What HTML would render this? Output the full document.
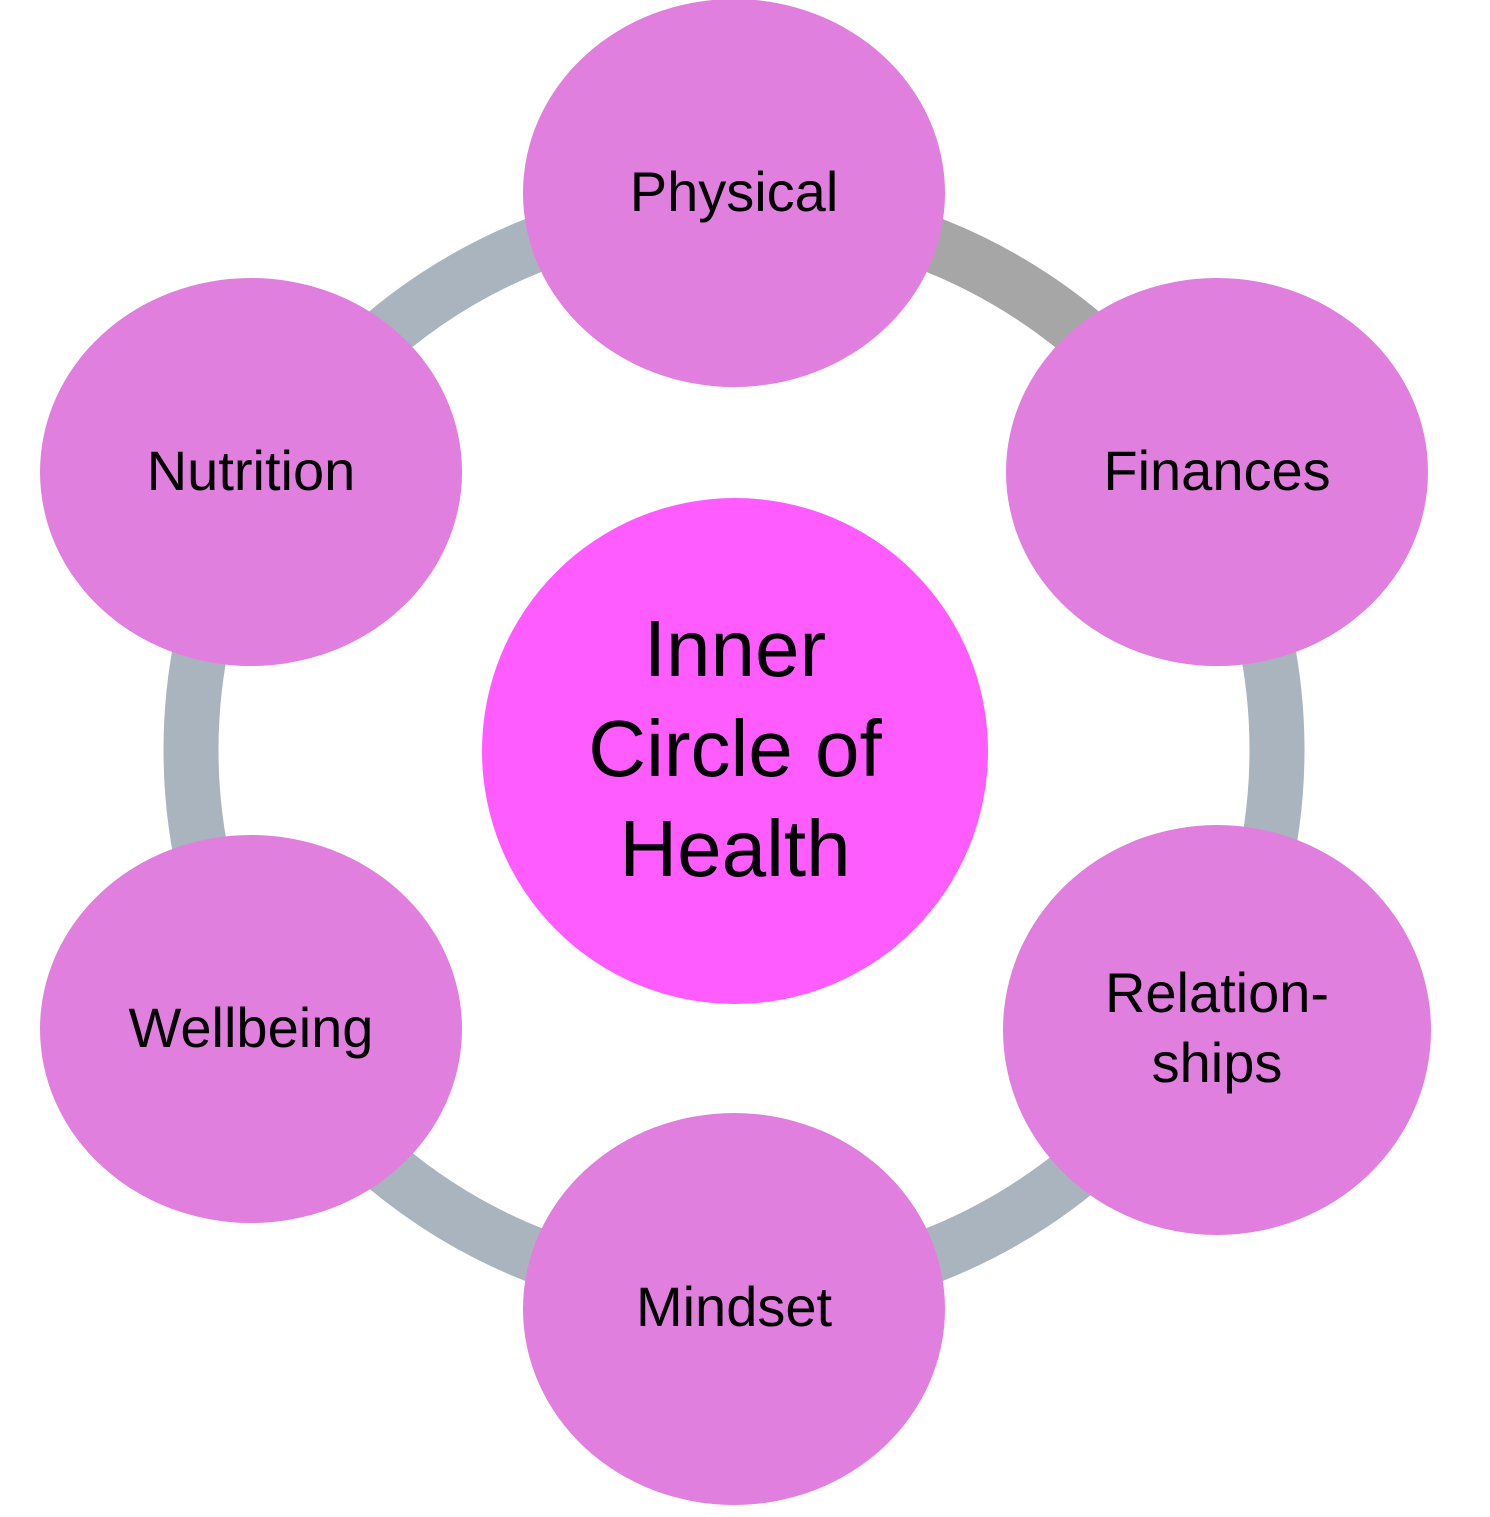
<!DOCTYPE html>
<html><head><style>html,body{margin:0;padding:0;background:#fff}</style></head>
<body>
<svg width="1490" height="1512" viewBox="0 0 1490 1512" xmlns="http://www.w3.org/2000/svg" font-family="Liberation Sans, sans-serif">
<rect width="1490" height="1512" fill="#fff"/>
<circle cx="734" cy="750" r="543" fill="none" stroke="#aab4bf" stroke-width="55"/>
<path d="M 734 207 A 543 543 0 0 1 1204 479" fill="none" stroke="#a6a6a6" stroke-width="55"/>
<g fill="#e07fdd">
<ellipse cx="734" cy="193" rx="211" ry="194"/>
<ellipse cx="1217" cy="472" rx="211" ry="194"/>
<ellipse cx="1217" cy="1030" rx="214" ry="205"/>
<ellipse cx="734" cy="1309" rx="211" ry="196"/>
<ellipse cx="251" cy="1029" rx="211" ry="194"/>
<ellipse cx="251" cy="472" rx="211" ry="194"/>
</g>
<circle cx="735" cy="751" r="253" fill="#ff5cff"/>
<g fill="#000" font-size="56" text-anchor="middle">
<text x="734" y="211">Physical</text>
<text x="1217" y="490">Finances</text>
<text x="1217" y="1012">Relation-</text>
<text x="1217" y="1082">ships</text>
<text x="734" y="1326">Mindset</text>
<text x="251" y="1047">Wellbeing</text>
<text x="251" y="490">Nutrition</text>
</g>
<g fill="#000" font-size="80" text-anchor="middle">
<text x="735" y="676">Inner</text>
<text x="735" y="776">Circle of</text>
<text x="735" y="876">Health</text>
</g>
</svg>
</body></html>
